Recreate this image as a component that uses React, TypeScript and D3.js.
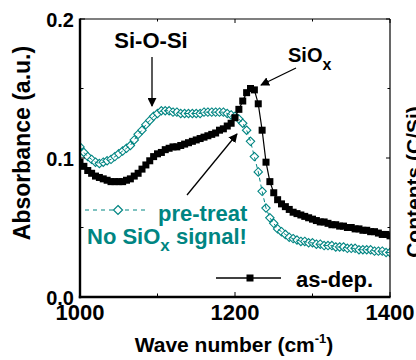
import React from 'react'
import * as d3 from 'd3'

// wave numbers, step 5 cm^-1
const waves: number[] = [
  1000, 1005, 1010, 1015, 1020, 1025, 1030, 1035, 1040, 1045,
  1050, 1055, 1060, 1065, 1070, 1075, 1080, 1085, 1090, 1095,
  1100, 1105, 1110, 1115, 1120, 1125, 1130, 1135, 1140, 1145,
  1150, 1155, 1160, 1165, 1170, 1175, 1180, 1185, 1190, 1195,
  1200, 1205, 1210, 1215, 1220, 1225, 1230, 1235, 1240, 1245,
  1250, 1255, 1260, 1265, 1270, 1275, 1280, 1285, 1290, 1295,
  1300, 1305, 1310, 1315, 1320, 1325, 1330, 1335, 1340, 1345,
  1350, 1355, 1360, 1365, 1370, 1375, 1380, 1385, 1390, 1395, 1400,
]

const asDep: number[] = [
  0.097, 0.094, 0.091, 0.089, 0.087, 0.086, 0.085, 0.084, 0.083, 0.083,
  0.083, 0.083, 0.084, 0.085, 0.087, 0.089, 0.092, 0.095, 0.098, 0.101,
  0.103, 0.104, 0.106, 0.107, 0.108, 0.108, 0.109, 0.110, 0.111, 0.112,
  0.113, 0.114, 0.115, 0.116, 0.117, 0.118, 0.120, 0.121, 0.123, 0.125,
  0.129, 0.135, 0.141, 0.147, 0.150, 0.149, 0.139, 0.120, 0.097, 0.083,
  0.075, 0.070, 0.067, 0.065, 0.063, 0.061, 0.060, 0.059, 0.058, 0.057,
  0.056, 0.055, 0.054, 0.054, 0.053, 0.052, 0.052, 0.051, 0.051, 0.050,
  0.050, 0.049, 0.049, 0.048, 0.048, 0.047, 0.047, 0.046, 0.045, 0.045, 0.044,
]

const preTreat: number[] = [
  0.108, 0.104, 0.101, 0.099, 0.097, 0.096, 0.097, 0.098, 0.099, 0.101,
  0.103, 0.105, 0.107, 0.109, 0.113, 0.117, 0.120, 0.124, 0.127, 0.130,
  0.132, 0.134, 0.134, 0.134, 0.133, 0.133, 0.132, 0.132, 0.132, 0.132,
  0.132, 0.132, 0.133, 0.133, 0.133, 0.133, 0.133, 0.133, 0.132, 0.131,
  0.130, 0.128, 0.125, 0.120, 0.112, 0.101, 0.090, 0.076, 0.064, 0.057,
  0.053, 0.049, 0.047, 0.045, 0.043, 0.042, 0.041, 0.040, 0.040, 0.039,
  0.039, 0.038, 0.038, 0.037, 0.037, 0.037, 0.036, 0.036, 0.036, 0.035,
  0.035, 0.035, 0.034, 0.034, 0.034, 0.034, 0.033, 0.033, 0.033, 0.032, 0.032,
]

const xTicks = [1000, 1200, 1400]
const xMinor = [1100, 1300]
const yTicks = [0.0, 0.1, 0.2]
const yMinor = [0.05, 0.15]

const W = 416, H = 360
const L = 80, R = 390, T = 19, B = 297
const TEAL = '#008582'
const FONT = '"Liberation Sans", Arial, sans-serif'

export default function App() {
  const x = d3.scaleLinear().domain([1000, 1400]).range([L, R])
  const y = d3.scaleLinear().domain([0, 0.2]).range([B, T])
  const line = d3.line<number>().x((_, i) => x(waves[i])).y(d => y(d))

  const diamond = (cx: number, cy: number, r: number) =>
    `M${cx},${cy - r}L${cx + r},${cy}L${cx},${cy + r}L${cx - r},${cy}Z`

  return (
    <div style={{ position: 'absolute', left: 0, top: 0 }}>
      <svg width={W} height={H} style={{ display: 'block' }} fontFamily={FONT} fontWeight="bold">
        <defs>
          <marker id="ah" viewBox="0 0 10 10" refX="9" refY="5" markerWidth="9" markerHeight="9"
            markerUnits="userSpaceOnUse" orient="auto">
            <path d="M0,0L10,5L0,10Z" fill="#000" />
          </marker>
          <clipPath id="plot">
            <rect x={L} y={T} width={R - L} height={B - T} />
          </clipPath>
        </defs>

        <g clipPath="url(#plot)">
          {/* pre-treat: hollow diamonds, dashed line on top */}
          {preTreat.map((v, i) => (
            <path key={'d' + i} d={diamond(x(waves[i]), y(v), 4.2)} fill="#fff" stroke={TEAL} strokeWidth={1.1} />
          ))}
          <path d={line(preTreat) ?? ''} fill="none" stroke={TEAL} strokeWidth={1} strokeDasharray="4,3" />

          {/* as-dep: line + filled squares */}
          <path d={line(asDep) ?? ''} fill="none" stroke="#000" strokeWidth={1.2} />
          {asDep.map((v, i) => (
            <rect key={'s' + i} x={x(waves[i]) - 3.5} y={y(v) - 3.5} width={7} height={7} fill="#000" />
          ))}
        </g>

        {/* frame */}
        <line x1={L} x2={R} y1={T} y2={T} stroke="#000" strokeWidth={1.2} />
        <line x1={R} x2={R} y1={T} y2={B} stroke="#000" strokeWidth={1.2} />
        <line x1={L} x2={L} y1={T - 0.6} y2={B + 1.2} stroke="#000" strokeWidth={2.4} />
        <line x1={L - 1.2} x2={R + 0.6} y1={B} y2={B} stroke="#000" strokeWidth={2.4} />

        {/* ticks */}
        {xTicks.concat(xMinor).map(t => {
          const len = xTicks.includes(t) ? 4 : 2.5
          return (
            <g key={'xt' + t}>
              <line x1={x(t)} x2={x(t)} y1={B} y2={B - len - 1} stroke="#000" strokeWidth={1} />
              <line x1={x(t)} x2={x(t)} y1={T} y2={T + len} stroke="#000" strokeWidth={1} />
            </g>
          )
        })}
        {yTicks.concat(yMinor).map(t => {
          const len = yTicks.includes(t) ? 4 : 2.5
          return (
            <g key={'yt' + t}>
              <line x1={L} x2={L + len + 1} y1={y(t)} y2={y(t)} stroke="#000" strokeWidth={1} />
              <line x1={R} x2={R - len} y1={y(t)} y2={y(t)} stroke="#000" strokeWidth={1} />
            </g>
          )
        })}

        {/* tick labels */}
        {yTicks.map(t => (
          <text key={'yl' + t} x={74} y={y(t) + 7.5} textAnchor="end" fontSize={20}>{d3.format('.1f')(t)}</text>
        ))}
        {xTicks.map(t => (
          <text key={'xl' + t} x={x(t)} y={320} textAnchor="middle" fontSize={22}>{t}</text>
        ))}

        {/* axis titles */}
        <text x={234} y={352} textAnchor="middle" fontSize={21}>
          Wave number (cm<tspan fontSize={13} dy={-9}>-1</tspan><tspan dy={9}>)</tspan>
        </text>
        <text transform="translate(30,143) rotate(-90)" textAnchor="middle" fontSize={23}>Absorbance (a.u.)</text>
        <text transform="translate(421,182) rotate(-90)" textAnchor="middle" fontSize={21}>Contents (C/Si)</text>

        {/* annotations */}
        <text x={151} y={48} textAnchor="middle" fontSize={22}>Si-O-Si</text>
        <line x1={152} y1={57} x2={152} y2={106} stroke="#000" strokeWidth={1.3} markerEnd="url(#ah)" />
        <text x={288} y={62} fontSize={20}>SiO<tspan fontSize={16} dy={8}>x</tspan></text>
        <line x1={296} y1={68} x2={261} y2={85} stroke="#000" strokeWidth={1.3} markerEnd="url(#ah)" />
        <line x1={187} y1={195} x2={237} y2={134} stroke="#000" strokeWidth={1.3} markerEnd="url(#ah)" />

        {/* legend */}
        <line x1={85} x2={148} y1={210} y2={210} stroke={TEAL} strokeWidth={1.2} strokeDasharray="4,4" />
        <path d={diamond(118, 210, 4.5)} fill="#fff" stroke={TEAL} strokeWidth={1.2} />
        <text x={158} y={221} fontSize={22} fill={TEAL}>pre-treat</text>
        <text x={87} y={244} fontSize={22} fill={TEAL}>
          No SiO<tspan fontSize={17} dy={7}>x</tspan><tspan dy={-7}> signal!</tspan>
        </text>

        <line x1={216} x2={281} y1={278} y2={278} stroke="#000" strokeWidth={1.3} />
        <rect x={246.5} y={274.5} width={7} height={7} fill="#000" />
        <text x={296} y={287} fontSize={22}>as-dep.</text>
      </svg>
    </div>
  )
}
